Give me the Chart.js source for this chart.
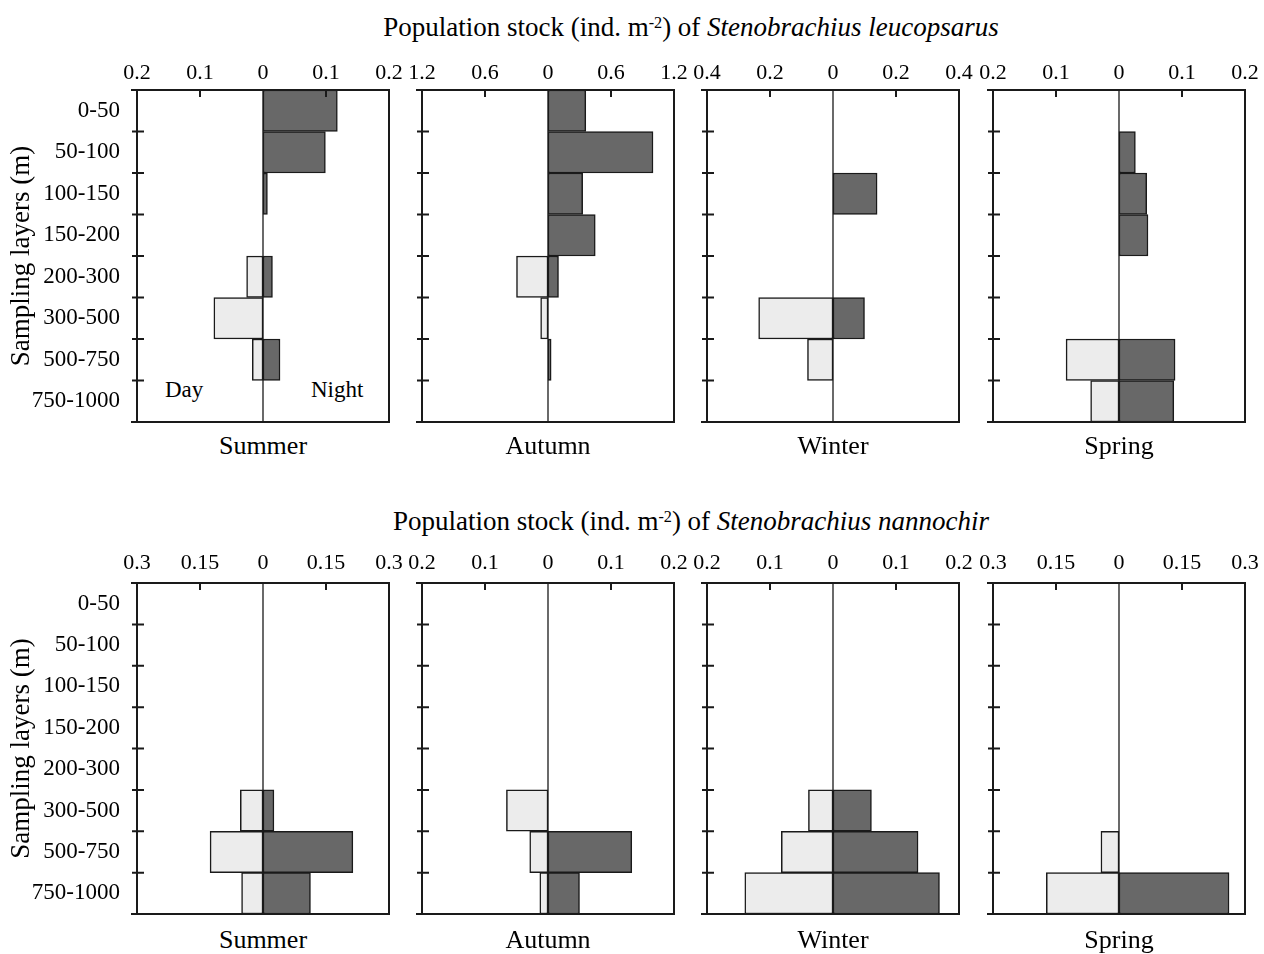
<!DOCTYPE html>
<html>
<head>
<meta charset="utf-8">
<script src="https://cdn.jsdelivr.net/npm/chart.js@4.4.0/dist/chart.umd.min.js"></script>
<style>
  body { margin: 0; background: #fff; width: 1264px; height: 954px; position: relative; overflow: hidden;
         font-family: 'Liberation Serif', 'Times New Roman', serif; color: #000; }
  canvas { position: absolute; }
  .title { position: absolute; left: 137px; width: 1108px; text-align: center; font-size: 27px; line-height: 30px; }
  .title sup { font-size: 0.6em; line-height: 0; position: relative; top: -0.5em; vertical-align: baseline; }
  .season { position: absolute; width: 252px; text-align: center; font-size: 26px; line-height: 30px; }
  .note { position: absolute; font-size: 23px; line-height: 28px; }
</style>
</head>
<body>
<div class="title" style="top:12px">Population stock (ind. m<sup>-2</sup>) of <i>Stenobrachius leucopsarus</i></div>
<div class="title" style="top:506px">Population stock (ind. m<sup>-2</sup>) of <i>Stenobrachius nannochir</i></div>
<div class="note" style="left:165px; top:376px">Day</div>
<div class="note" style="left:311px; top:376px">Night</div>

<script>
const layers = ['0-50', '50-100', '100-150', '150-200', '200-300', '300-500', '500-750', '750-1000'];
const seasons = ['Summer', 'Autumn', 'Winter', 'Spring'];

// S. leucopsarus, ind. m-2 (day bars go left, night bars go right)
const leuSummerDay   = [0, 0, 0, 0, 0.026, 0.078, 0.017, 0];
const leuSummerNight = [0.118, 0.099, 0.007, 0, 0.015, 0, 0.027, 0];
const leuAutumnDay   = [0, 0, 0, 0, 0.30, 0.07, 0, 0];
const leuAutumnNight = [0.36, 1.0, 0.33, 0.45, 0.10, 0, 0.03, 0];
const leuWinterDay   = [0, 0, 0, 0, 0, 0.236, 0.081, 0];
const leuWinterNight = [0, 0, 0.14, 0, 0, 0.10, 0, 0];
const leuSpringDay   = [0, 0, 0, 0, 0, 0, 0.084, 0.045];
const leuSpringNight = [0, 0.026, 0.044, 0.046, 0, 0, 0.089, 0.087];

// S. nannochir
const nanSummerDay   = [0, 0, 0, 0, 0, 0.054, 0.126, 0.051];
const nanSummerNight = [0, 0, 0, 0, 0, 0.026, 0.214, 0.113];
const nanAutumnDay   = [0, 0, 0, 0, 0, 0.066, 0.029, 0.013];
const nanAutumnNight = [0, 0, 0, 0, 0, 0, 0.133, 0.050];
const nanWinterDay   = [0, 0, 0, 0, 0, 0.039, 0.082, 0.140];
const nanWinterNight = [0, 0, 0, 0, 0, 0.061, 0.135, 0.169];
const nanSpringDay   = [0, 0, 0, 0, 0, 0, 0.043, 0.173];
const nanSpringNight = [0, 0, 0, 0, 0, 0, 0, 0.262];

// axis half-range of each panel (ticks at -r, -r/2, 0, r/2, r)
const leuRanges = [0.2, 1.2, 0.4, 0.2];
const nanRanges = [0.3, 0.2, 0.2, 0.3];

const dayColor = '#ececec';
const nightColor = '#686868';
const lineColor = '#1a1a1a';

Chart.defaults.font.family = "'Liberation Serif', 'Times New Roman', serif";
Chart.defaults.color = '#000';

const boxLefts = [137, 422, 707, 993];
const boxW = 252;
const rows = [
  { canvasTop: 40, boxTop: 90, boxBottom: 422, seasonTop: 431, tickPad: -4 },
  { canvasTop: 533, boxTop: 583, boxBottom: 914, seasonTop: 925, tickPad: -1 }
];

// box, zero line and tick marks, drawn like the original figure
const framePlugin = {
  id: 'frame',
  beforeDatasetsDraw(chart) {
    const { ctx, chartArea: a, scales: { x } } = chart;
    const x0 = x.getPixelForValue(0);
    ctx.save();
    ctx.strokeStyle = lineColor;
    ctx.lineWidth = 1.3;
    ctx.beginPath();
    ctx.moveTo(x0, a.top);
    ctx.lineTo(x0, a.bottom);
    ctx.stroke();
    ctx.restore();
  },
  afterDatasetsDraw(chart) {
    const { ctx, chartArea: a, scales: { x, y } } = chart;
    ctx.save();
    ctx.strokeStyle = lineColor;
    ctx.lineWidth = 2;
    ctx.beginPath();
    ctx.moveTo(a.left - 6, a.top);
    ctx.lineTo(a.right, a.top);
    ctx.lineTo(a.right, a.bottom);
    ctx.lineTo(a.left - 6, a.bottom);
    ctx.moveTo(a.left, a.top);
    ctx.lineTo(a.left, a.bottom);
    x.ticks.forEach(t => {
      if (t.value !== 0 && Math.abs(t.value) < x.max) {
        const px = x.getPixelForValue(t.value);
        ctx.moveTo(px, a.top);
        ctx.lineTo(px, a.top + 7);
      }
    });
    for (let i = 1; i < y.ticks.length; i++) {
      const py = (y.getPixelForValue(i - 1) + y.getPixelForValue(i)) / 2;
      ctx.moveTo(a.left - 5, py);
      ctx.lineTo(a.left + 7, py);
    }
    ctx.stroke();
    ctx.restore();
  }
};

function makePanel(row, col, day, night, range) {
  const first = col === 0;
  const yw = first ? boxLefts[0] : 24;
  const c = document.createElement('canvas');
  c.width = yw + boxW + 16;
  c.height = row.boxBottom - row.canvasTop + 6;
  c.style.left = (boxLefts[col] - yw) + 'px';
  c.style.top = row.canvasTop + 'px';
  document.body.appendChild(c);

  const s = document.createElement('div');
  s.className = 'season';
  s.textContent = seasons[col];
  s.style.left = boxLefts[col] + 'px';
  s.style.top = row.seasonTop + 'px';
  document.body.appendChild(s);

  new Chart(c, {
    type: 'bar',
    data: {
      labels: layers,
      datasets: [
        { label: 'Day', data: day.map(v => v ? -v : null), backgroundColor: dayColor },
        { label: 'Night', data: night.map(v => v || null), backgroundColor: nightColor }
      ]
    },
    options: {
      indexAxis: 'y',
      responsive: false,
      animation: false,
      layout: { padding: { top: 0, left: 0, right: 16, bottom: 6 } },
      plugins: { legend: { display: false }, tooltip: { enabled: false } },
      datasets: {
        bar: { barPercentage: 1, categoryPercentage: 1, borderWidth: 1.5, borderColor: lineColor, borderSkipped: false }
      },
      scales: {
        x: {
          position: 'top',
          min: -range,
          max: range,
          stacked: true,
          grid: { display: false },
          border: { display: false },
          afterBuildTicks: sc => { sc.ticks = [-range, -range / 2, 0, range / 2, range].map(v => ({ value: v })); },
          ticks: {
            callback: v => String(+Math.abs(v).toFixed(2)),
            font: { size: 22 },
            padding: row.tickPad,
            maxRotation: 0,
            autoSkip: false
          },
          afterFit: sc => { sc.height = row.boxTop - row.canvasTop; sc.paddingLeft = 0; sc.paddingRight = 0; }
        },
        y: {
          stacked: true,
          grid: { display: false },
          border: { display: false },
          ticks: { display: first, font: { size: 23 }, padding: 9, autoSkip: false },
          title: { display: first, text: 'Sampling layers (m)', font: { size: 27 }, padding: { top: 6, bottom: 0 } },
          afterFit: sc => { sc.width = yw; sc.paddingTop = 0; sc.paddingBottom = 0; }
        }
      }
    },
    plugins: [framePlugin]
  });
}

makePanel(rows[0], 0, leuSummerDay, leuSummerNight, leuRanges[0]);
makePanel(rows[0], 1, leuAutumnDay, leuAutumnNight, leuRanges[1]);
makePanel(rows[0], 2, leuWinterDay, leuWinterNight, leuRanges[2]);
makePanel(rows[0], 3, leuSpringDay, leuSpringNight, leuRanges[3]);

makePanel(rows[1], 0, nanSummerDay, nanSummerNight, nanRanges[0]);
makePanel(rows[1], 1, nanAutumnDay, nanAutumnNight, nanRanges[1]);
makePanel(rows[1], 2, nanWinterDay, nanWinterNight, nanRanges[2]);
makePanel(rows[1], 3, nanSpringDay, nanSpringNight, nanRanges[3]);
</script>
</body>
</html>
